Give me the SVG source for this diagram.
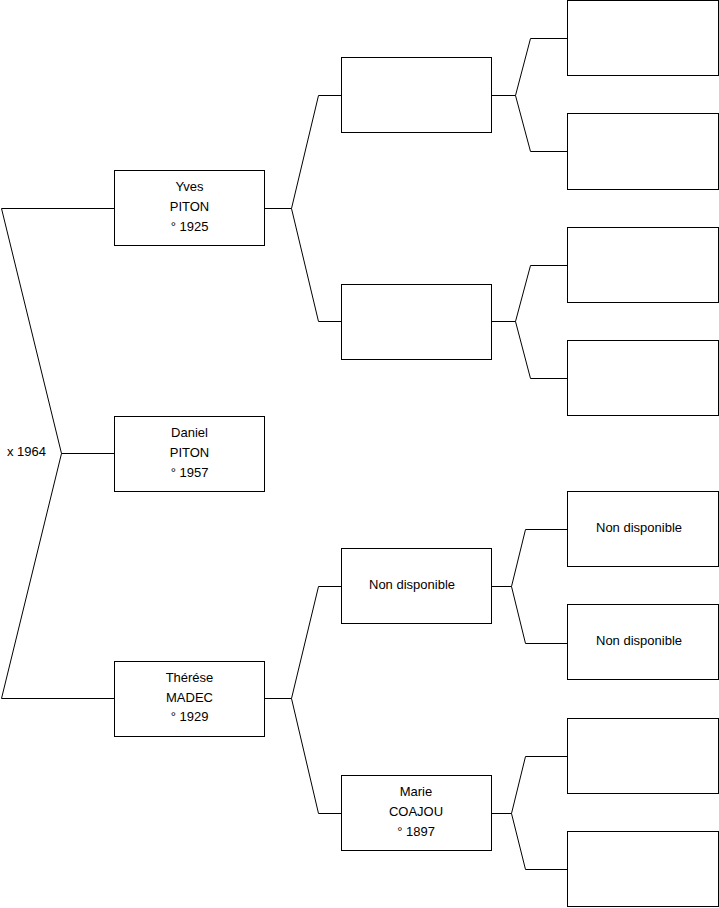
<svg xmlns="http://www.w3.org/2000/svg" width="719" height="908" viewBox="0 0 719 908">
<style>
rect.box{fill:#fff;stroke:#000;stroke-width:1}
.c{fill:none;stroke:#000;stroke-width:1}
text{font-family:"Liberation Sans",Arial,sans-serif;font-size:13px;fill:#000}
.m{text-anchor:middle}
</style>
<rect width="719" height="908" fill="#fff"/>
<g id="connectors">
<polyline class="c" points="114,208.5 1.5,208.5 61.5,453.5 1.5,698.5 114,698.5"/>
<polyline class="c" points="61.5,453.5 114,453.5"/>
<polyline class="c" points="265,208.5 291.5,208.5"/>
<polyline class="c" points="341,95.5 318.5,95.5 291.5,208.5 318.5,321.5 341,321.5"/>
<polyline class="c" points="265,698.5 291.5,698.5"/>
<polyline class="c" points="341,586.5 318.5,586.5 291.5,698.5 318.5,813.5 341,813.5"/>
<polyline class="c" points="491,95.5 515.5,95.5"/>
<polyline class="c" points="567,38.5 530.5,38.5 515.5,95.5 530.5,151.5 567,151.5"/>
<polyline class="c" points="491,321.5 515.5,321.5"/>
<polyline class="c" points="567,265.5 530.5,265.5 515.5,321.5 530.5,378.5 567,378.5"/>
<polyline class="c" points="491,586.5 511.5,586.5"/>
<polyline class="c" points="567,529.5 525.5,529.5 511.5,586.5 525.5,643.5 567,643.5"/>
<polyline class="c" points="491,813.5 511.5,813.5"/>
<polyline class="c" points="567,756.5 525.5,756.5 511.5,813.5 525.5,869.5 567,869.5"/>
</g>
<text x="7" y="456">x 1964</text>
<g id="yves">
<rect class="box" x="114.5" y="170.5" width="150" height="75"/>
<text class="m" x="189.5" y="191">Yves</text>
<text class="m" x="189.5" y="211">PITON</text>
<text class="m" x="189.5" y="231">° 1925</text>
</g>
<g id="daniel">
<rect class="box" x="114.5" y="416.5" width="150" height="75"/>
<text class="m" x="189.5" y="437">Daniel</text>
<text class="m" x="189.5" y="457">PITON</text>
<text class="m" x="189.5" y="477">° 1957</text>
</g>
<g id="therese">
<rect class="box" x="114.5" y="661.5" width="150" height="75"/>
<text class="m" x="189.5" y="682">Thérése</text>
<text class="m" x="189.5" y="702">MADEC</text>
<text class="m" x="189.5" y="721">° 1929</text>
</g>
<g id="m1"><rect class="box" x="341.5" y="57.5" width="150" height="75"/></g>
<g id="m2"><rect class="box" x="341.5" y="284.5" width="150" height="75"/></g>
<g id="m3">
<rect class="box" x="341.5" y="548.5" width="150" height="75"/>
<text x="369" y="589">Non disponible</text>
</g>
<g id="marie">
<rect class="box" x="341.5" y="775.5" width="150" height="75"/>
<text class="m" x="416" y="796">Marie</text>
<text class="m" x="416" y="816">COAJOU</text>
<text class="m" x="416" y="836">° 1897</text>
</g>
<g id="r1"><rect class="box" x="567.5" y="0.5" width="151" height="75"/></g>
<g id="r2"><rect class="box" x="567.5" y="113.5" width="151" height="76"/></g>
<g id="r3"><rect class="box" x="567.5" y="227.5" width="151" height="75"/></g>
<g id="r4"><rect class="box" x="567.5" y="340.5" width="151" height="75"/></g>
<g id="r5">
<rect class="box" x="567.5" y="491.5" width="151" height="75"/>
<text x="596" y="532">Non disponible</text>
</g>
<g id="r6">
<rect class="box" x="567.5" y="604.5" width="151" height="75"/>
<text x="596" y="645">Non disponible</text>
</g>
<g id="r7"><rect class="box" x="567.5" y="718.5" width="151" height="75"/></g>
<g id="r8"><rect class="box" x="567.5" y="831.5" width="151" height="75"/></g>
</svg>
